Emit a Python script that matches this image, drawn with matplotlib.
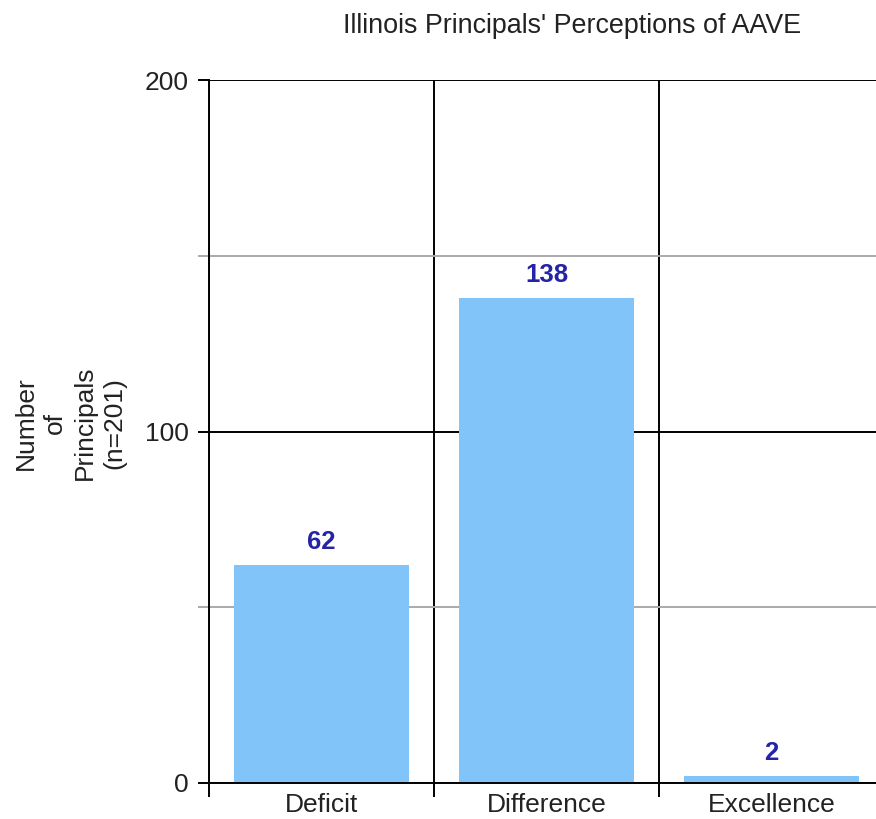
import matplotlib
matplotlib.use("Agg")
import matplotlib.pyplot as plt
from matplotlib.ticker import FixedLocator, NullFormatter

# Survey counts by perception category
categories = ["Deficit", "Difference", "Excellence"]
counts = [62, 138, 2]
y_major = [0, 100, 200]
y_minor = [50, 150]

title = "Illinois Principals' Perceptions of AAVE"
ylabel = "Number\nof\nPrincipals\n(n=201)"

plt.rcParams["font.family"] = ["Liberation Sans", "DejaVu Sans"]

W, H = 876, 819
fig = plt.figure(figsize=(W / 100, H / 100), dpi=100)
fig.patch.set_facecolor("white")

# Plot area runs past the right edge of the canvas
left, right, top, bottom = 209, 884, 80, 783
ax = fig.add_axes([left / W, (H - bottom) / H, (right - left) / W, (bottom - top) / H])

x = list(range(len(categories)))
bars = ax.bar(x, counts, width=0.78, color="#80c4fa", zorder=3)

for xi, v in zip(x, counts):
    ax.annotate(str(v), (xi, v), xytext=(0, 11.5), textcoords="offset points",
                ha="center", va="baseline", fontsize=18.5, fontweight="bold",
                color="#2424a4", zorder=4)

ax.set_xlim(-0.5, len(categories) - 0.5)
ax.set_ylim(0, 200)

# y axis: black major lines, grey minor lines
ax.yaxis.set_major_locator(FixedLocator(y_major))
ax.yaxis.set_minor_locator(FixedLocator(y_minor))
ax.yaxis.set_minor_formatter(NullFormatter())
ax.tick_params(axis="y", which="major", length=8, width=1.4, color="black",
               direction="out", pad=6.5, labelsize=19, labelcolor="#222222")
ax.tick_params(axis="y", which="minor", length=8, width=1.4, color="#aaaaaa",
               direction="out")
ax.yaxis.grid(True, which="major", color="black", linewidth=1.4, zorder=1)
ax.yaxis.grid(True, which="minor", color="#aaaaaa", linewidth=1.4, zorder=1)

# x axis: category boundaries as lines, names centred between them
bounds = [i - 0.5 for i in range(len(categories) + 1)]
ax.xaxis.set_major_locator(FixedLocator(bounds))
ax.xaxis.set_major_formatter(NullFormatter())
ax.xaxis.set_minor_locator(FixedLocator(x))
ax.set_xticklabels(categories, minor=True)
ax.tick_params(axis="x", which="major", length=10, width=1.4, color="black",
               direction="out")
ax.tick_params(axis="x", which="minor", length=0, pad=7.5, labelsize=19,
               labelcolor="#222222")
ax.xaxis.grid(True, which="major", color="black", linewidth=1.4, zorder=1)

ax.set_axisbelow(True)
for side in ("top", "right"):
    ax.spines[side].set_visible(False)
for side in ("left", "bottom"):
    ax.spines[side].set_linewidth(1.4)
    ax.spines[side].set_color("black")
    ax.spines[side].set_zorder(5)

fig.text(572 / W, (H - 33) / H, title, ha="center", va="baseline",
         fontsize=19.4, color="#222222")
fig.text(70 / W, (H - 423) / H, ylabel, ha="center", va="center",
         rotation=90, fontsize=19, linespacing=1.28, multialignment="center",
         color="#222222")

fig.savefig("out.png", dpi=100, facecolor="white")
